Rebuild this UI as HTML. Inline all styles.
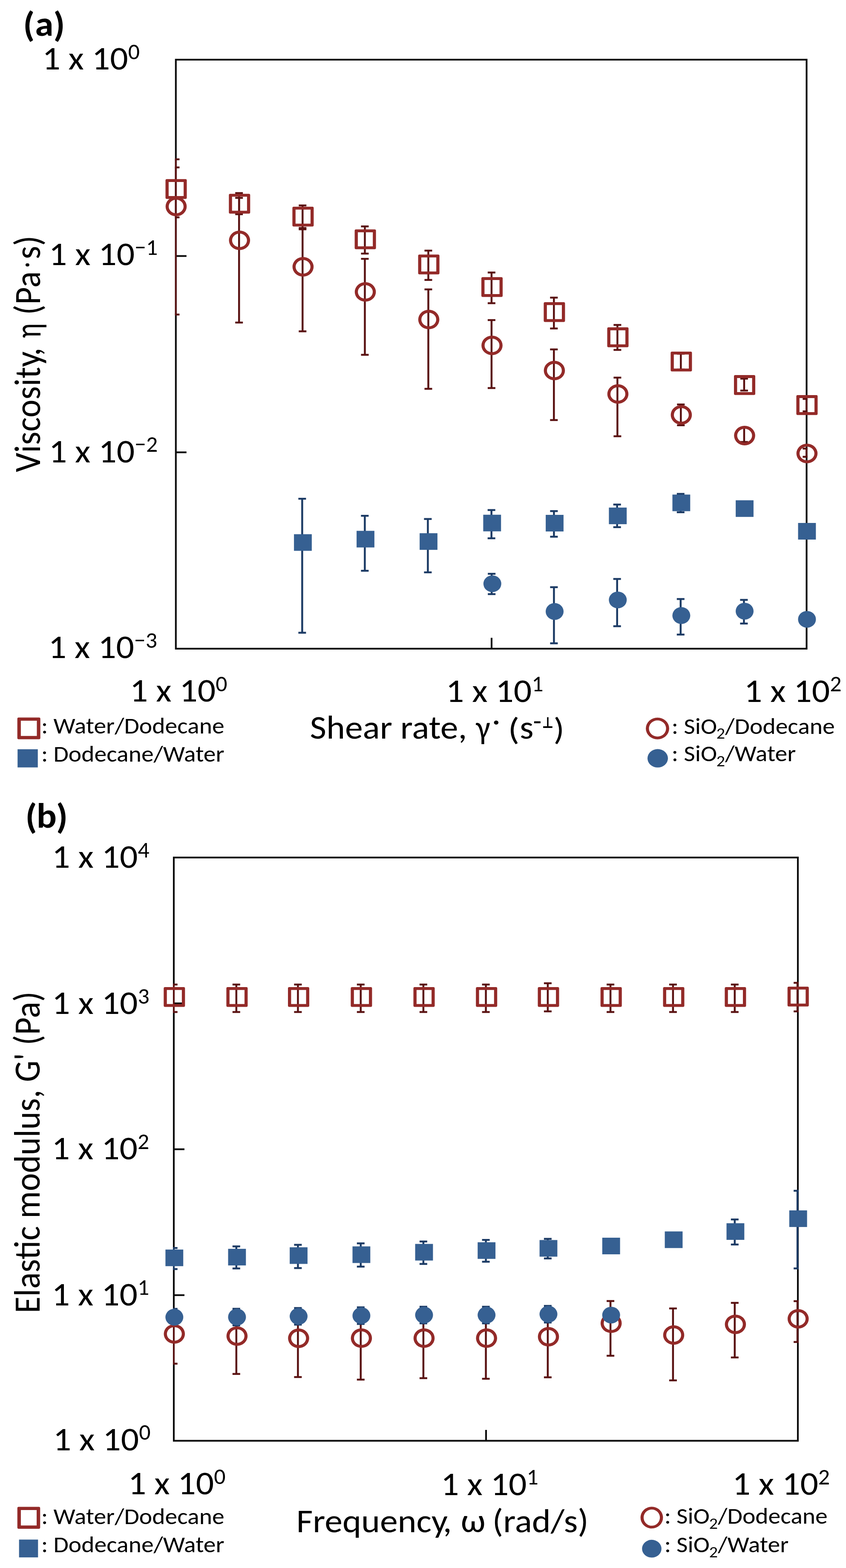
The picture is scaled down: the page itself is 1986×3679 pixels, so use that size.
<!DOCTYPE html>
<html><head><meta charset="utf-8"><title>Rheology figure</title><style>html,body{margin:0;padding:0;background:#fff;}svg{display:block;}</style></head><body>
<svg width="1986" height="3679" viewBox="0 0 1986 3679" font-family='"Carlito", "Liberation Sans", sans-serif' fill="#000">
<rect width="1986" height="3679" fill="#fff"/>
<defs><clipPath id="ca"><rect x="410.75" y="137.95" width="1484.8" height="1386.1"/></clipPath><clipPath id="cb"><rect x="405.95" y="2009.95" width="1469.1" height="1372.6"/></clipPath></defs>
<rect x="412.8" y="140" width="1480.7" height="1382" fill="none" stroke="#0c0c0c" stroke-width="4.1"/>
<line x1="412.8" y1="600.7" x2="437.8" y2="600.7" stroke="#0c0c0c" stroke-width="4.1"/>
<line x1="412.8" y1="1061.3" x2="437.8" y2="1061.3" stroke="#0c0c0c" stroke-width="4.1"/>
<line x1="1154" y1="1522" x2="1154" y2="1496.5" stroke="#0c0c0c" stroke-width="4.1"/>
<g clip-path="url(#ca)">
<line x1="412.40" y1="373.80" x2="412.40" y2="510.00" stroke="#5a1212" stroke-width="4.5"/>
<rect x="403.40" y="371.60" width="18.00" height="4.40" fill="#5a1212"/>
<rect x="403.40" y="507.80" width="18.00" height="4.40" fill="#5a1212"/>
<line x1="561.20" y1="453.00" x2="561.20" y2="502.60" stroke="#5a1212" stroke-width="4.5"/>
<rect x="552.20" y="450.80" width="18.00" height="4.40" fill="#5a1212"/>
<rect x="552.20" y="500.40" width="18.00" height="4.40" fill="#5a1212"/>
<line x1="710.30" y1="482.00" x2="710.30" y2="535.00" stroke="#5a1212" stroke-width="4.5"/>
<rect x="701.30" y="479.80" width="18.00" height="4.40" fill="#5a1212"/>
<rect x="701.30" y="532.80" width="18.00" height="4.40" fill="#5a1212"/>
<line x1="856.50" y1="531.20" x2="856.50" y2="595.00" stroke="#5a1212" stroke-width="4.5"/>
<rect x="847.50" y="529.00" width="18.00" height="4.40" fill="#5a1212"/>
<rect x="847.50" y="592.80" width="18.00" height="4.40" fill="#5a1212"/>
<line x1="1005.50" y1="588.00" x2="1005.50" y2="656.80" stroke="#5a1212" stroke-width="4.5"/>
<rect x="996.50" y="585.80" width="18.00" height="4.40" fill="#5a1212"/>
<rect x="996.50" y="654.60" width="18.00" height="4.40" fill="#5a1212"/>
<line x1="1153.90" y1="639.40" x2="1153.90" y2="711.40" stroke="#5a1212" stroke-width="4.5"/>
<rect x="1144.90" y="637.20" width="18.00" height="4.40" fill="#5a1212"/>
<rect x="1144.90" y="709.20" width="18.00" height="4.40" fill="#5a1212"/>
<line x1="1300.30" y1="698.30" x2="1300.30" y2="770.70" stroke="#5a1212" stroke-width="4.5"/>
<rect x="1291.30" y="696.10" width="18.00" height="4.40" fill="#5a1212"/>
<rect x="1291.30" y="768.50" width="18.00" height="4.40" fill="#5a1212"/>
<line x1="1449.40" y1="762.40" x2="1449.40" y2="821.00" stroke="#5a1212" stroke-width="4.5"/>
<rect x="1440.40" y="760.20" width="18.00" height="4.40" fill="#5a1212"/>
<rect x="1440.40" y="818.80" width="18.00" height="4.40" fill="#5a1212"/>
<line x1="1598.30" y1="830.00" x2="1598.30" y2="867.00" stroke="#5a1212" stroke-width="4.5"/>
<rect x="1589.30" y="827.80" width="18.00" height="4.40" fill="#5a1212"/>
<rect x="1589.30" y="864.80" width="18.00" height="4.40" fill="#5a1212"/>
<line x1="1746.90" y1="888.40" x2="1746.90" y2="916.40" stroke="#5a1212" stroke-width="4.5"/>
<rect x="1737.90" y="886.20" width="18.00" height="4.40" fill="#5a1212"/>
<rect x="1737.90" y="914.20" width="18.00" height="4.40" fill="#5a1212"/>
<line x1="1893.30" y1="936.00" x2="1893.30" y2="965.20" stroke="#5a1212" stroke-width="4.5"/>
<rect x="1884.30" y="933.80" width="18.00" height="4.40" fill="#5a1212"/>
<rect x="1884.30" y="963.00" width="18.00" height="4.40" fill="#5a1212"/>
<line x1="412.40" y1="392.80" x2="412.40" y2="738.00" stroke="#5a1212" stroke-width="4.5"/>
<rect x="403.40" y="390.60" width="18.00" height="4.40" fill="#5a1212"/>
<rect x="403.40" y="735.80" width="18.00" height="4.40" fill="#5a1212"/>
<line x1="561.20" y1="464.30" x2="561.20" y2="756.80" stroke="#5a1212" stroke-width="4.5"/>
<rect x="552.20" y="462.10" width="18.00" height="4.40" fill="#5a1212"/>
<rect x="552.20" y="754.60" width="18.00" height="4.40" fill="#5a1212"/>
<line x1="710.30" y1="538.00" x2="710.30" y2="777.40" stroke="#5a1212" stroke-width="4.5"/>
<rect x="701.30" y="535.80" width="18.00" height="4.40" fill="#5a1212"/>
<rect x="701.30" y="775.20" width="18.00" height="4.40" fill="#5a1212"/>
<line x1="856.50" y1="607.30" x2="856.50" y2="832.50" stroke="#5a1212" stroke-width="4.5"/>
<rect x="847.50" y="605.10" width="18.00" height="4.40" fill="#5a1212"/>
<rect x="847.50" y="830.30" width="18.00" height="4.40" fill="#5a1212"/>
<line x1="1005.50" y1="679.00" x2="1005.50" y2="912.30" stroke="#5a1212" stroke-width="4.5"/>
<rect x="996.50" y="676.80" width="18.00" height="4.40" fill="#5a1212"/>
<rect x="996.50" y="910.10" width="18.00" height="4.40" fill="#5a1212"/>
<line x1="1153.90" y1="751.00" x2="1153.90" y2="910.50" stroke="#5a1212" stroke-width="4.5"/>
<rect x="1144.90" y="748.80" width="18.00" height="4.40" fill="#5a1212"/>
<rect x="1144.90" y="908.30" width="18.00" height="4.40" fill="#5a1212"/>
<line x1="1300.30" y1="819.80" x2="1300.30" y2="985.60" stroke="#5a1212" stroke-width="4.5"/>
<rect x="1291.30" y="817.60" width="18.00" height="4.40" fill="#5a1212"/>
<rect x="1291.30" y="983.40" width="18.00" height="4.40" fill="#5a1212"/>
<line x1="1449.40" y1="886.00" x2="1449.40" y2="1023.60" stroke="#5a1212" stroke-width="4.5"/>
<rect x="1440.40" y="883.80" width="18.00" height="4.40" fill="#5a1212"/>
<rect x="1440.40" y="1021.40" width="18.00" height="4.40" fill="#5a1212"/>
<line x1="1598.30" y1="949.00" x2="1598.30" y2="997.80" stroke="#5a1212" stroke-width="4.5"/>
<rect x="1589.30" y="946.80" width="18.00" height="4.40" fill="#5a1212"/>
<rect x="1589.30" y="995.60" width="18.00" height="4.40" fill="#5a1212"/>
<line x1="1746.90" y1="1003.50" x2="1746.90" y2="1037.00" stroke="#5a1212" stroke-width="4.5"/>
<rect x="1737.90" y="1001.30" width="18.00" height="4.40" fill="#5a1212"/>
<rect x="1737.90" y="1034.80" width="18.00" height="4.40" fill="#5a1212"/>
<line x1="1893.30" y1="1052.50" x2="1893.30" y2="1071.80" stroke="#5a1212" stroke-width="4.5"/>
<rect x="1884.30" y="1050.30" width="18.00" height="4.40" fill="#5a1212"/>
<rect x="1884.30" y="1069.60" width="18.00" height="4.40" fill="#5a1212"/>
<line x1="709.40" y1="1170.20" x2="709.40" y2="1484.60" stroke="#1c3b65" stroke-width="4.5"/>
<rect x="700.40" y="1168.00" width="18.00" height="4.40" fill="#1c3b65"/>
<rect x="700.40" y="1482.40" width="18.00" height="4.40" fill="#1c3b65"/>
<line x1="856.40" y1="1210.20" x2="856.40" y2="1339.20" stroke="#1c3b65" stroke-width="4.5"/>
<rect x="847.40" y="1208.00" width="18.00" height="4.40" fill="#1c3b65"/>
<rect x="847.40" y="1337.00" width="18.00" height="4.40" fill="#1c3b65"/>
<line x1="1004.40" y1="1217.70" x2="1004.40" y2="1342.90" stroke="#1c3b65" stroke-width="4.5"/>
<rect x="995.40" y="1215.50" width="18.00" height="4.40" fill="#1c3b65"/>
<rect x="995.40" y="1340.70" width="18.00" height="4.40" fill="#1c3b65"/>
<line x1="1153.70" y1="1196.70" x2="1153.70" y2="1263.00" stroke="#1c3b65" stroke-width="4.5"/>
<rect x="1144.70" y="1194.50" width="18.00" height="4.40" fill="#1c3b65"/>
<rect x="1144.70" y="1260.80" width="18.00" height="4.40" fill="#1c3b65"/>
<line x1="1300.40" y1="1199.20" x2="1300.40" y2="1259.30" stroke="#1c3b65" stroke-width="4.5"/>
<rect x="1291.40" y="1197.00" width="18.00" height="4.40" fill="#1c3b65"/>
<rect x="1291.40" y="1257.10" width="18.00" height="4.40" fill="#1c3b65"/>
<line x1="1448.70" y1="1183.80" x2="1448.70" y2="1236.90" stroke="#1c3b65" stroke-width="4.5"/>
<rect x="1439.70" y="1181.60" width="18.00" height="4.40" fill="#1c3b65"/>
<rect x="1439.70" y="1234.70" width="18.00" height="4.40" fill="#1c3b65"/>
<line x1="1597.80" y1="1158.80" x2="1597.80" y2="1201.90" stroke="#1c3b65" stroke-width="4.5"/>
<rect x="1588.80" y="1156.60" width="18.00" height="4.40" fill="#1c3b65"/>
<rect x="1588.80" y="1199.70" width="18.00" height="4.40" fill="#1c3b65"/>
<line x1="1154.20" y1="1346.30" x2="1154.20" y2="1394.00" stroke="#1c3b65" stroke-width="4.5"/>
<rect x="1145.20" y="1344.10" width="18.00" height="4.40" fill="#1c3b65"/>
<rect x="1145.20" y="1391.80" width="18.00" height="4.40" fill="#1c3b65"/>
<line x1="1300.40" y1="1377.70" x2="1300.40" y2="1509.40" stroke="#1c3b65" stroke-width="4.5"/>
<rect x="1291.40" y="1375.50" width="18.00" height="4.40" fill="#1c3b65"/>
<rect x="1291.40" y="1507.20" width="18.00" height="4.40" fill="#1c3b65"/>
<line x1="1448.70" y1="1358.40" x2="1448.70" y2="1469.30" stroke="#1c3b65" stroke-width="4.5"/>
<rect x="1439.70" y="1356.20" width="18.00" height="4.40" fill="#1c3b65"/>
<rect x="1439.70" y="1467.10" width="18.00" height="4.40" fill="#1c3b65"/>
<line x1="1597.80" y1="1405.50" x2="1597.80" y2="1488.90" stroke="#1c3b65" stroke-width="4.5"/>
<rect x="1588.80" y="1403.30" width="18.00" height="4.40" fill="#1c3b65"/>
<rect x="1588.80" y="1486.70" width="18.00" height="4.40" fill="#1c3b65"/>
<line x1="1746.40" y1="1407.50" x2="1746.40" y2="1463.00" stroke="#1c3b65" stroke-width="4.5"/>
<rect x="1737.40" y="1405.30" width="18.00" height="4.40" fill="#1c3b65"/>
<rect x="1737.40" y="1460.80" width="18.00" height="4.40" fill="#1c3b65"/>
</g>
<path fill="#932a28" fill-rule="evenodd" d="M391.50,420.20h44.00a3.0,3.0 0 0 1 3.0,3.0v40.60a3.0,3.0 0 0 1 -3.0,3.0h-44.00a3.0,3.0 0 0 1 -3.0,-3.0v-40.60a3.0,3.0 0 0 1 3.0,-3.0z M395.91,427.00h35.18v33.00h-35.18z"/>
<path fill="#932a28" fill-rule="evenodd" d="M540.30,454.70h44.00a3.0,3.0 0 0 1 3.0,3.0v40.60a3.0,3.0 0 0 1 -3.0,3.0h-44.00a3.0,3.0 0 0 1 -3.0,-3.0v-40.60a3.0,3.0 0 0 1 3.0,-3.0z M544.71,461.50h35.18v33.00h-35.18z"/>
<path fill="#932a28" fill-rule="evenodd" d="M689.40,484.90h44.00a3.0,3.0 0 0 1 3.0,3.0v40.60a3.0,3.0 0 0 1 -3.0,3.0h-44.00a3.0,3.0 0 0 1 -3.0,-3.0v-40.60a3.0,3.0 0 0 1 3.0,-3.0z M693.81,491.70h35.18v33.00h-35.18z"/>
<path fill="#932a28" fill-rule="evenodd" d="M835.60,538.20h44.00a3.0,3.0 0 0 1 3.0,3.0v40.60a3.0,3.0 0 0 1 -3.0,3.0h-44.00a3.0,3.0 0 0 1 -3.0,-3.0v-40.60a3.0,3.0 0 0 1 3.0,-3.0z M840.01,545.00h35.18v33.00h-35.18z"/>
<path fill="#932a28" fill-rule="evenodd" d="M984.60,597.20h44.00a3.0,3.0 0 0 1 3.0,3.0v40.60a3.0,3.0 0 0 1 -3.0,3.0h-44.00a3.0,3.0 0 0 1 -3.0,-3.0v-40.60a3.0,3.0 0 0 1 3.0,-3.0z M989.01,604.00h35.18v33.00h-35.18z"/>
<path fill="#932a28" fill-rule="evenodd" d="M1133.00,650.20h44.00a3.0,3.0 0 0 1 3.0,3.0v40.60a3.0,3.0 0 0 1 -3.0,3.0h-44.00a3.0,3.0 0 0 1 -3.0,-3.0v-40.60a3.0,3.0 0 0 1 3.0,-3.0z M1137.41,657.00h35.18v33.00h-35.18z"/>
<path fill="#932a28" fill-rule="evenodd" d="M1279.40,709.00h44.00a3.0,3.0 0 0 1 3.0,3.0v40.60a3.0,3.0 0 0 1 -3.0,3.0h-44.00a3.0,3.0 0 0 1 -3.0,-3.0v-40.60a3.0,3.0 0 0 1 3.0,-3.0z M1283.81,715.80h35.18v33.00h-35.18z"/>
<path fill="#932a28" fill-rule="evenodd" d="M1428.50,768.10h44.00a3.0,3.0 0 0 1 3.0,3.0v40.60a3.0,3.0 0 0 1 -3.0,3.0h-44.00a3.0,3.0 0 0 1 -3.0,-3.0v-40.60a3.0,3.0 0 0 1 3.0,-3.0z M1432.91,774.90h35.18v33.00h-35.18z"/>
<path fill="#932a28" fill-rule="evenodd" d="M1577.40,824.90h44.00a3.0,3.0 0 0 1 3.0,3.0v40.60a3.0,3.0 0 0 1 -3.0,3.0h-44.00a3.0,3.0 0 0 1 -3.0,-3.0v-40.60a3.0,3.0 0 0 1 3.0,-3.0z M1581.81,831.70h35.18v33.00h-35.18z"/>
<path fill="#932a28" fill-rule="evenodd" d="M1726.00,880.10h44.00a3.0,3.0 0 0 1 3.0,3.0v40.60a3.0,3.0 0 0 1 -3.0,3.0h-44.00a3.0,3.0 0 0 1 -3.0,-3.0v-40.60a3.0,3.0 0 0 1 3.0,-3.0z M1730.41,886.90h35.18v33.00h-35.18z"/>
<path fill="#932a28" fill-rule="evenodd" d="M1872.40,927.10h44.00a3.0,3.0 0 0 1 3.0,3.0v40.60a3.0,3.0 0 0 1 -3.0,3.0h-44.00a3.0,3.0 0 0 1 -3.0,-3.0v-40.60a3.0,3.0 0 0 1 3.0,-3.0z M1876.81,933.90h35.18v33.00h-35.18z"/>
<rect x="690.10" y="1253.40" width="41.80" height="39.00" fill="#366092"/>
<rect x="837.10" y="1245.50" width="41.80" height="39.00" fill="#366092"/>
<rect x="985.10" y="1251.10" width="41.80" height="39.00" fill="#366092"/>
<rect x="1134.40" y="1207.70" width="41.80" height="39.00" fill="#366092"/>
<rect x="1281.10" y="1208.00" width="41.80" height="39.00" fill="#366092"/>
<rect x="1429.40" y="1190.90" width="41.80" height="39.00" fill="#366092"/>
<rect x="1578.50" y="1160.40" width="41.80" height="39.00" fill="#366092"/>
<rect x="1727.10" y="1173.80" width="41.80" height="39.00" fill="#366092"/>
<rect x="1873.50" y="1227.00" width="41.80" height="39.00" fill="#366092"/>
<path fill="#932a28" fill-rule="evenodd" d="M388.70,484.50a24.80,22.90 0 1 0 49.60,0a24.80,22.90 0 1 0 -49.60,0z M396.05,484.50a17.45,15.90 0 1 0 34.90,0a17.45,15.90 0 1 0 -34.90,0z"/>
<path fill="#932a28" fill-rule="evenodd" d="M537.50,563.90a24.80,22.90 0 1 0 49.60,0a24.80,22.90 0 1 0 -49.60,0z M544.85,563.90a17.45,15.90 0 1 0 34.90,0a17.45,15.90 0 1 0 -34.90,0z"/>
<path fill="#932a28" fill-rule="evenodd" d="M686.60,626.00a24.80,22.90 0 1 0 49.60,0a24.80,22.90 0 1 0 -49.60,0z M693.95,626.00a17.45,15.90 0 1 0 34.90,0a17.45,15.90 0 1 0 -34.90,0z"/>
<path fill="#932a28" fill-rule="evenodd" d="M832.80,684.90a24.80,22.90 0 1 0 49.60,0a24.80,22.90 0 1 0 -49.60,0z M840.15,684.90a17.45,15.90 0 1 0 34.90,0a17.45,15.90 0 1 0 -34.90,0z"/>
<path fill="#932a28" fill-rule="evenodd" d="M981.80,749.70a24.80,22.90 0 1 0 49.60,0a24.80,22.90 0 1 0 -49.60,0z M989.15,749.70a17.45,15.90 0 1 0 34.90,0a17.45,15.90 0 1 0 -34.90,0z"/>
<path fill="#932a28" fill-rule="evenodd" d="M1130.20,810.40a24.80,22.90 0 1 0 49.60,0a24.80,22.90 0 1 0 -49.60,0z M1137.55,810.40a17.45,15.90 0 1 0 34.90,0a17.45,15.90 0 1 0 -34.90,0z"/>
<path fill="#932a28" fill-rule="evenodd" d="M1276.60,869.40a24.80,22.90 0 1 0 49.60,0a24.80,22.90 0 1 0 -49.60,0z M1283.95,869.40a17.45,15.90 0 1 0 34.90,0a17.45,15.90 0 1 0 -34.90,0z"/>
<path fill="#932a28" fill-rule="evenodd" d="M1425.70,924.40a24.80,22.90 0 1 0 49.60,0a24.80,22.90 0 1 0 -49.60,0z M1433.05,924.40a17.45,15.90 0 1 0 34.90,0a17.45,15.90 0 1 0 -34.90,0z"/>
<path fill="#932a28" fill-rule="evenodd" d="M1574.60,973.50a24.80,22.90 0 1 0 49.60,0a24.80,22.90 0 1 0 -49.60,0z M1581.95,973.50a17.45,15.90 0 1 0 34.90,0a17.45,15.90 0 1 0 -34.90,0z"/>
<path fill="#932a28" fill-rule="evenodd" d="M1723.20,1022.00a24.80,22.90 0 1 0 49.60,0a24.80,22.90 0 1 0 -49.60,0z M1730.55,1022.00a17.45,15.90 0 1 0 34.90,0a17.45,15.90 0 1 0 -34.90,0z"/>
<path fill="#932a28" fill-rule="evenodd" d="M1869.60,1064.00a24.80,22.90 0 1 0 49.60,0a24.80,22.90 0 1 0 -49.60,0z M1876.95,1064.00a17.45,15.90 0 1 0 34.90,0a17.45,15.90 0 1 0 -34.90,0z"/>
<ellipse cx="1155.80" cy="1369.60" rx="21.00" ry="19.70" fill="#366092"/>
<ellipse cx="1302.00" cy="1434.70" rx="21.00" ry="19.70" fill="#366092"/>
<ellipse cx="1450.30" cy="1407.60" rx="21.00" ry="19.70" fill="#366092"/>
<ellipse cx="1599.40" cy="1444.20" rx="21.00" ry="19.70" fill="#366092"/>
<ellipse cx="1748.00" cy="1434.00" rx="21.00" ry="19.70" fill="#366092"/>
<ellipse cx="1894.40" cy="1453.10" rx="21.00" ry="19.70" fill="#366092"/>
<rect x="408" y="2012" width="1465" height="1368.5" fill="none" stroke="#0c0c0c" stroke-width="4.1"/>
<line x1="408" y1="2354.2" x2="433" y2="2354.2" stroke="#0c0c0c" stroke-width="4.1"/>
<line x1="408" y1="2696.5" x2="433" y2="2696.5" stroke="#0c0c0c" stroke-width="4.1"/>
<line x1="408" y1="3038.8" x2="433" y2="3038.8" stroke="#0c0c0c" stroke-width="4.1"/>
<line x1="1141" y1="3380.5" x2="1141" y2="3355.0" stroke="#0c0c0c" stroke-width="4.1"/>
<g clip-path="url(#cb)">
<line x1="407.70" y1="2310.00" x2="407.70" y2="2374.50" stroke="#5a1212" stroke-width="4.5"/>
<rect x="398.70" y="2307.80" width="18.00" height="4.40" fill="#5a1212"/>
<rect x="398.70" y="2372.30" width="18.00" height="4.40" fill="#5a1212"/>
<line x1="554.80" y1="2310.00" x2="554.80" y2="2374.50" stroke="#5a1212" stroke-width="4.5"/>
<rect x="545.80" y="2307.80" width="18.00" height="4.40" fill="#5a1212"/>
<rect x="545.80" y="2372.30" width="18.00" height="4.40" fill="#5a1212"/>
<line x1="699.40" y1="2310.00" x2="699.40" y2="2374.50" stroke="#5a1212" stroke-width="4.5"/>
<rect x="690.40" y="2307.80" width="18.00" height="4.40" fill="#5a1212"/>
<rect x="690.40" y="2372.30" width="18.00" height="4.40" fill="#5a1212"/>
<line x1="846.80" y1="2310.00" x2="846.80" y2="2374.50" stroke="#5a1212" stroke-width="4.5"/>
<rect x="837.80" y="2307.80" width="18.00" height="4.40" fill="#5a1212"/>
<rect x="837.80" y="2372.30" width="18.00" height="4.40" fill="#5a1212"/>
<line x1="993.90" y1="2310.00" x2="993.90" y2="2374.50" stroke="#5a1212" stroke-width="4.5"/>
<rect x="984.90" y="2307.80" width="18.00" height="4.40" fill="#5a1212"/>
<rect x="984.90" y="2372.30" width="18.00" height="4.40" fill="#5a1212"/>
<line x1="1140.60" y1="2310.00" x2="1140.60" y2="2374.50" stroke="#5a1212" stroke-width="4.5"/>
<rect x="1131.60" y="2307.80" width="18.00" height="4.40" fill="#5a1212"/>
<rect x="1131.60" y="2372.30" width="18.00" height="4.40" fill="#5a1212"/>
<line x1="1285.90" y1="2307.00" x2="1285.90" y2="2373.00" stroke="#5a1212" stroke-width="4.5"/>
<rect x="1276.90" y="2304.80" width="18.00" height="4.40" fill="#5a1212"/>
<rect x="1276.90" y="2370.80" width="18.00" height="4.40" fill="#5a1212"/>
<line x1="1433.10" y1="2310.00" x2="1433.10" y2="2374.50" stroke="#5a1212" stroke-width="4.5"/>
<rect x="1424.10" y="2307.80" width="18.00" height="4.40" fill="#5a1212"/>
<rect x="1424.10" y="2372.30" width="18.00" height="4.40" fill="#5a1212"/>
<line x1="1579.90" y1="2310.00" x2="1579.90" y2="2374.50" stroke="#5a1212" stroke-width="4.5"/>
<rect x="1570.90" y="2307.80" width="18.00" height="4.40" fill="#5a1212"/>
<rect x="1570.90" y="2372.30" width="18.00" height="4.40" fill="#5a1212"/>
<line x1="1724.80" y1="2310.00" x2="1724.80" y2="2374.50" stroke="#5a1212" stroke-width="4.5"/>
<rect x="1715.80" y="2307.80" width="18.00" height="4.40" fill="#5a1212"/>
<rect x="1715.80" y="2372.30" width="18.00" height="4.40" fill="#5a1212"/>
<line x1="1872.10" y1="2306.00" x2="1872.10" y2="2373.00" stroke="#5a1212" stroke-width="4.5"/>
<rect x="1863.10" y="2303.80" width="18.00" height="4.40" fill="#5a1212"/>
<rect x="1863.10" y="2370.80" width="18.00" height="4.40" fill="#5a1212"/>
<line x1="407.70" y1="2928.20" x2="407.70" y2="2977.60" stroke="#1c3b65" stroke-width="4.5"/>
<rect x="398.70" y="2926.00" width="18.00" height="4.40" fill="#1c3b65"/>
<rect x="398.70" y="2975.40" width="18.00" height="4.40" fill="#1c3b65"/>
<line x1="554.80" y1="2924.40" x2="554.80" y2="2976.20" stroke="#1c3b65" stroke-width="4.5"/>
<rect x="545.80" y="2922.20" width="18.00" height="4.40" fill="#1c3b65"/>
<rect x="545.80" y="2974.00" width="18.00" height="4.40" fill="#1c3b65"/>
<line x1="699.40" y1="2920.70" x2="699.40" y2="2975.30" stroke="#1c3b65" stroke-width="4.5"/>
<rect x="690.40" y="2918.50" width="18.00" height="4.40" fill="#1c3b65"/>
<rect x="690.40" y="2973.10" width="18.00" height="4.40" fill="#1c3b65"/>
<line x1="846.80" y1="2917.30" x2="846.80" y2="2971.90" stroke="#1c3b65" stroke-width="4.5"/>
<rect x="837.80" y="2915.10" width="18.00" height="4.40" fill="#1c3b65"/>
<rect x="837.80" y="2969.70" width="18.00" height="4.40" fill="#1c3b65"/>
<line x1="993.90" y1="2912.90" x2="993.90" y2="2965.60" stroke="#1c3b65" stroke-width="4.5"/>
<rect x="984.90" y="2910.70" width="18.00" height="4.40" fill="#1c3b65"/>
<rect x="984.90" y="2963.40" width="18.00" height="4.40" fill="#1c3b65"/>
<line x1="1140.60" y1="2909.20" x2="1140.60" y2="2960.40" stroke="#1c3b65" stroke-width="4.5"/>
<rect x="1131.60" y="2907.00" width="18.00" height="4.40" fill="#1c3b65"/>
<rect x="1131.60" y="2958.20" width="18.00" height="4.40" fill="#1c3b65"/>
<line x1="1285.90" y1="2906.70" x2="1285.90" y2="2952.70" stroke="#1c3b65" stroke-width="4.5"/>
<rect x="1276.90" y="2904.50" width="18.00" height="4.40" fill="#1c3b65"/>
<rect x="1276.90" y="2950.50" width="18.00" height="4.40" fill="#1c3b65"/>
<line x1="1724.80" y1="2861.20" x2="1724.80" y2="2920.00" stroke="#1c3b65" stroke-width="4.5"/>
<rect x="1715.80" y="2859.00" width="18.00" height="4.40" fill="#1c3b65"/>
<rect x="1715.80" y="2917.80" width="18.00" height="4.40" fill="#1c3b65"/>
<line x1="1872.10" y1="2793.90" x2="1872.10" y2="2976.10" stroke="#1c3b65" stroke-width="4.5"/>
<rect x="1863.10" y="2791.70" width="18.00" height="4.40" fill="#1c3b65"/>
<rect x="1863.10" y="2973.90" width="18.00" height="4.40" fill="#1c3b65"/>
<line x1="407.70" y1="3090.00" x2="407.70" y2="3199.60" stroke="#5a1212" stroke-width="4.5"/>
<rect x="398.70" y="3087.80" width="18.00" height="4.40" fill="#5a1212"/>
<rect x="398.70" y="3197.40" width="18.00" height="4.40" fill="#5a1212"/>
<line x1="554.80" y1="3090.00" x2="554.80" y2="3223.70" stroke="#5a1212" stroke-width="4.5"/>
<rect x="545.80" y="3087.80" width="18.00" height="4.40" fill="#5a1212"/>
<rect x="545.80" y="3221.50" width="18.00" height="4.40" fill="#5a1212"/>
<line x1="699.40" y1="3088.00" x2="699.40" y2="3231.00" stroke="#5a1212" stroke-width="4.5"/>
<rect x="690.40" y="3085.80" width="18.00" height="4.40" fill="#5a1212"/>
<rect x="690.40" y="3228.80" width="18.00" height="4.40" fill="#5a1212"/>
<line x1="846.80" y1="3087.00" x2="846.80" y2="3237.00" stroke="#5a1212" stroke-width="4.5"/>
<rect x="837.80" y="3084.80" width="18.00" height="4.40" fill="#5a1212"/>
<rect x="837.80" y="3234.80" width="18.00" height="4.40" fill="#5a1212"/>
<line x1="993.90" y1="3085.00" x2="993.90" y2="3233.60" stroke="#5a1212" stroke-width="4.5"/>
<rect x="984.90" y="3082.80" width="18.00" height="4.40" fill="#5a1212"/>
<rect x="984.90" y="3231.40" width="18.00" height="4.40" fill="#5a1212"/>
<line x1="1140.60" y1="3085.00" x2="1140.60" y2="3235.00" stroke="#5a1212" stroke-width="4.5"/>
<rect x="1131.60" y="3082.80" width="18.00" height="4.40" fill="#5a1212"/>
<rect x="1131.60" y="3232.80" width="18.00" height="4.40" fill="#5a1212"/>
<line x1="1285.90" y1="3083.00" x2="1285.90" y2="3231.60" stroke="#5a1212" stroke-width="4.5"/>
<rect x="1276.90" y="3080.80" width="18.00" height="4.40" fill="#5a1212"/>
<rect x="1276.90" y="3229.40" width="18.00" height="4.40" fill="#5a1212"/>
<line x1="1433.10" y1="3052.60" x2="1433.10" y2="3181.00" stroke="#5a1212" stroke-width="4.5"/>
<rect x="1424.10" y="3050.40" width="18.00" height="4.40" fill="#5a1212"/>
<rect x="1424.10" y="3178.80" width="18.00" height="4.40" fill="#5a1212"/>
<line x1="1579.90" y1="3070.00" x2="1579.90" y2="3238.80" stroke="#5a1212" stroke-width="4.5"/>
<rect x="1570.90" y="3067.80" width="18.00" height="4.40" fill="#5a1212"/>
<rect x="1570.90" y="3236.60" width="18.00" height="4.40" fill="#5a1212"/>
<line x1="1724.80" y1="3056.90" x2="1724.80" y2="3185.00" stroke="#5a1212" stroke-width="4.5"/>
<rect x="1715.80" y="3054.70" width="18.00" height="4.40" fill="#5a1212"/>
<rect x="1715.80" y="3182.80" width="18.00" height="4.40" fill="#5a1212"/>
<line x1="1872.10" y1="3052.90" x2="1872.10" y2="3148.70" stroke="#5a1212" stroke-width="4.5"/>
<rect x="1863.10" y="3050.70" width="18.00" height="4.40" fill="#5a1212"/>
<rect x="1863.10" y="3146.50" width="18.00" height="4.40" fill="#5a1212"/>
<line x1="407.70" y1="3071.00" x2="407.70" y2="3110.00" stroke="#1c3b65" stroke-width="4.5"/>
<rect x="398.70" y="3068.80" width="18.00" height="4.40" fill="#1c3b65"/>
<rect x="398.70" y="3107.80" width="18.00" height="4.40" fill="#1c3b65"/>
<line x1="554.80" y1="3070.80" x2="554.80" y2="3109.80" stroke="#1c3b65" stroke-width="4.5"/>
<rect x="545.80" y="3068.60" width="18.00" height="4.40" fill="#1c3b65"/>
<rect x="545.80" y="3107.60" width="18.00" height="4.40" fill="#1c3b65"/>
<line x1="699.40" y1="3069.00" x2="699.40" y2="3108.00" stroke="#1c3b65" stroke-width="4.5"/>
<rect x="690.40" y="3066.80" width="18.00" height="4.40" fill="#1c3b65"/>
<rect x="690.40" y="3105.80" width="18.00" height="4.40" fill="#1c3b65"/>
<line x1="846.80" y1="3067.40" x2="846.80" y2="3106.40" stroke="#1c3b65" stroke-width="4.5"/>
<rect x="837.80" y="3065.20" width="18.00" height="4.40" fill="#1c3b65"/>
<rect x="837.80" y="3104.20" width="18.00" height="4.40" fill="#1c3b65"/>
<line x1="993.90" y1="3066.00" x2="993.90" y2="3105.00" stroke="#1c3b65" stroke-width="4.5"/>
<rect x="984.90" y="3063.80" width="18.00" height="4.40" fill="#1c3b65"/>
<rect x="984.90" y="3102.80" width="18.00" height="4.40" fill="#1c3b65"/>
<line x1="1140.60" y1="3066.00" x2="1140.60" y2="3105.00" stroke="#1c3b65" stroke-width="4.5"/>
<rect x="1131.60" y="3063.80" width="18.00" height="4.40" fill="#1c3b65"/>
<rect x="1131.60" y="3102.80" width="18.00" height="4.40" fill="#1c3b65"/>
<line x1="1285.90" y1="3064.00" x2="1285.90" y2="3103.00" stroke="#1c3b65" stroke-width="4.5"/>
<rect x="1276.90" y="3061.80" width="18.00" height="4.40" fill="#1c3b65"/>
<rect x="1276.90" y="3100.80" width="18.00" height="4.40" fill="#1c3b65"/>
<line x1="1433.10" y1="3075.60" x2="1433.10" y2="3095.60" stroke="#1c3b65" stroke-width="4.5"/>
<rect x="1424.10" y="3073.40" width="18.00" height="4.40" fill="#1c3b65"/>
<rect x="1424.10" y="3093.40" width="18.00" height="4.40" fill="#1c3b65"/>
</g>
<path fill="#932a28" fill-rule="evenodd" d="M387.30,2315.90h44.00a3.0,3.0 0 0 1 3.0,3.0v40.60a3.0,3.0 0 0 1 -3.0,3.0h-44.00a3.0,3.0 0 0 1 -3.0,-3.0v-40.60a3.0,3.0 0 0 1 3.0,-3.0z M391.71,2322.70h35.18v33.00h-35.18z"/>
<path fill="#932a28" fill-rule="evenodd" d="M534.40,2315.90h44.00a3.0,3.0 0 0 1 3.0,3.0v40.60a3.0,3.0 0 0 1 -3.0,3.0h-44.00a3.0,3.0 0 0 1 -3.0,-3.0v-40.60a3.0,3.0 0 0 1 3.0,-3.0z M538.81,2322.70h35.18v33.00h-35.18z"/>
<path fill="#932a28" fill-rule="evenodd" d="M679.00,2315.90h44.00a3.0,3.0 0 0 1 3.0,3.0v40.60a3.0,3.0 0 0 1 -3.0,3.0h-44.00a3.0,3.0 0 0 1 -3.0,-3.0v-40.60a3.0,3.0 0 0 1 3.0,-3.0z M683.41,2322.70h35.18v33.00h-35.18z"/>
<path fill="#932a28" fill-rule="evenodd" d="M826.40,2315.90h44.00a3.0,3.0 0 0 1 3.0,3.0v40.60a3.0,3.0 0 0 1 -3.0,3.0h-44.00a3.0,3.0 0 0 1 -3.0,-3.0v-40.60a3.0,3.0 0 0 1 3.0,-3.0z M830.81,2322.70h35.18v33.00h-35.18z"/>
<path fill="#932a28" fill-rule="evenodd" d="M973.50,2315.90h44.00a3.0,3.0 0 0 1 3.0,3.0v40.60a3.0,3.0 0 0 1 -3.0,3.0h-44.00a3.0,3.0 0 0 1 -3.0,-3.0v-40.60a3.0,3.0 0 0 1 3.0,-3.0z M977.91,2322.70h35.18v33.00h-35.18z"/>
<path fill="#932a28" fill-rule="evenodd" d="M1120.20,2315.90h44.00a3.0,3.0 0 0 1 3.0,3.0v40.60a3.0,3.0 0 0 1 -3.0,3.0h-44.00a3.0,3.0 0 0 1 -3.0,-3.0v-40.60a3.0,3.0 0 0 1 3.0,-3.0z M1124.61,2322.70h35.18v33.00h-35.18z"/>
<path fill="#932a28" fill-rule="evenodd" d="M1265.50,2315.90h44.00a3.0,3.0 0 0 1 3.0,3.0v40.60a3.0,3.0 0 0 1 -3.0,3.0h-44.00a3.0,3.0 0 0 1 -3.0,-3.0v-40.60a3.0,3.0 0 0 1 3.0,-3.0z M1269.91,2322.70h35.18v33.00h-35.18z"/>
<path fill="#932a28" fill-rule="evenodd" d="M1412.70,2315.90h44.00a3.0,3.0 0 0 1 3.0,3.0v40.60a3.0,3.0 0 0 1 -3.0,3.0h-44.00a3.0,3.0 0 0 1 -3.0,-3.0v-40.60a3.0,3.0 0 0 1 3.0,-3.0z M1417.11,2322.70h35.18v33.00h-35.18z"/>
<path fill="#932a28" fill-rule="evenodd" d="M1559.50,2315.90h44.00a3.0,3.0 0 0 1 3.0,3.0v40.60a3.0,3.0 0 0 1 -3.0,3.0h-44.00a3.0,3.0 0 0 1 -3.0,-3.0v-40.60a3.0,3.0 0 0 1 3.0,-3.0z M1563.91,2322.70h35.18v33.00h-35.18z"/>
<path fill="#932a28" fill-rule="evenodd" d="M1704.40,2315.90h44.00a3.0,3.0 0 0 1 3.0,3.0v40.60a3.0,3.0 0 0 1 -3.0,3.0h-44.00a3.0,3.0 0 0 1 -3.0,-3.0v-40.60a3.0,3.0 0 0 1 3.0,-3.0z M1708.81,2322.70h35.18v33.00h-35.18z"/>
<path fill="#932a28" fill-rule="evenodd" d="M1851.70,2314.90h44.00a3.0,3.0 0 0 1 3.0,3.0v40.60a3.0,3.0 0 0 1 -3.0,3.0h-44.00a3.0,3.0 0 0 1 -3.0,-3.0v-40.60a3.0,3.0 0 0 1 3.0,-3.0z M1856.11,2321.70h35.18v33.00h-35.18z"/>
<rect x="388.40" y="2931.80" width="41.80" height="39.00" fill="#366092"/>
<rect x="535.50" y="2930.10" width="41.80" height="39.00" fill="#366092"/>
<rect x="680.10" y="2926.50" width="41.80" height="39.00" fill="#366092"/>
<rect x="827.50" y="2924.40" width="41.80" height="39.00" fill="#366092"/>
<rect x="974.60" y="2918.60" width="41.80" height="39.00" fill="#366092"/>
<rect x="1121.30" y="2914.70" width="41.80" height="39.00" fill="#366092"/>
<rect x="1266.60" y="2909.50" width="41.80" height="39.00" fill="#366092"/>
<rect x="1413.80" y="2904.00" width="41.80" height="39.00" fill="#366092"/>
<rect x="1560.60" y="2889.30" width="41.80" height="39.00" fill="#366092"/>
<rect x="1705.50" y="2870.10" width="41.80" height="39.00" fill="#366092"/>
<rect x="1852.80" y="2839.90" width="41.80" height="39.00" fill="#366092"/>
<path fill="#932a28" fill-rule="evenodd" d="M384.50,3129.80a24.80,22.90 0 1 0 49.60,0a24.80,22.90 0 1 0 -49.60,0z M391.85,3129.80a17.45,15.90 0 1 0 34.90,0a17.45,15.90 0 1 0 -34.90,0z"/>
<path fill="#932a28" fill-rule="evenodd" d="M531.60,3134.80a24.80,22.90 0 1 0 49.60,0a24.80,22.90 0 1 0 -49.60,0z M538.95,3134.80a17.45,15.90 0 1 0 34.90,0a17.45,15.90 0 1 0 -34.90,0z"/>
<path fill="#932a28" fill-rule="evenodd" d="M676.20,3140.00a24.80,22.90 0 1 0 49.60,0a24.80,22.90 0 1 0 -49.60,0z M683.55,3140.00a17.45,15.90 0 1 0 34.90,0a17.45,15.90 0 1 0 -34.90,0z"/>
<path fill="#932a28" fill-rule="evenodd" d="M823.60,3139.70a24.80,22.90 0 1 0 49.60,0a24.80,22.90 0 1 0 -49.60,0z M830.95,3139.70a17.45,15.90 0 1 0 34.90,0a17.45,15.90 0 1 0 -34.90,0z"/>
<path fill="#932a28" fill-rule="evenodd" d="M970.70,3139.70a24.80,22.90 0 1 0 49.60,0a24.80,22.90 0 1 0 -49.60,0z M978.05,3139.70a17.45,15.90 0 1 0 34.90,0a17.45,15.90 0 1 0 -34.90,0z"/>
<path fill="#932a28" fill-rule="evenodd" d="M1117.40,3139.70a24.80,22.90 0 1 0 49.60,0a24.80,22.90 0 1 0 -49.60,0z M1124.75,3139.70a17.45,15.90 0 1 0 34.90,0a17.45,15.90 0 1 0 -34.90,0z"/>
<path fill="#932a28" fill-rule="evenodd" d="M1262.70,3136.40a24.80,22.90 0 1 0 49.60,0a24.80,22.90 0 1 0 -49.60,0z M1270.05,3136.40a17.45,15.90 0 1 0 34.90,0a17.45,15.90 0 1 0 -34.90,0z"/>
<path fill="#932a28" fill-rule="evenodd" d="M1409.90,3104.70a24.80,22.90 0 1 0 49.60,0a24.80,22.90 0 1 0 -49.60,0z M1417.25,3104.70a17.45,15.90 0 1 0 34.90,0a17.45,15.90 0 1 0 -34.90,0z"/>
<path fill="#932a28" fill-rule="evenodd" d="M1556.70,3132.40a24.80,22.90 0 1 0 49.60,0a24.80,22.90 0 1 0 -49.60,0z M1564.05,3132.40a17.45,15.90 0 1 0 34.90,0a17.45,15.90 0 1 0 -34.90,0z"/>
<path fill="#932a28" fill-rule="evenodd" d="M1701.60,3107.30a24.80,22.90 0 1 0 49.60,0a24.80,22.90 0 1 0 -49.60,0z M1708.95,3107.30a17.45,15.90 0 1 0 34.90,0a17.45,15.90 0 1 0 -34.90,0z"/>
<path fill="#932a28" fill-rule="evenodd" d="M1848.90,3094.30a24.80,22.90 0 1 0 49.60,0a24.80,22.90 0 1 0 -49.60,0z M1856.25,3094.30a17.45,15.90 0 1 0 34.90,0a17.45,15.90 0 1 0 -34.90,0z"/>
<ellipse cx="409.30" cy="3090.50" rx="21.00" ry="19.70" fill="#366092"/>
<ellipse cx="556.40" cy="3090.30" rx="21.00" ry="19.70" fill="#366092"/>
<ellipse cx="701.00" cy="3088.50" rx="21.00" ry="19.70" fill="#366092"/>
<ellipse cx="848.40" cy="3086.90" rx="21.00" ry="19.70" fill="#366092"/>
<ellipse cx="995.50" cy="3085.50" rx="21.00" ry="19.70" fill="#366092"/>
<ellipse cx="1142.20" cy="3085.50" rx="21.00" ry="19.70" fill="#366092"/>
<ellipse cx="1287.50" cy="3083.50" rx="21.00" ry="19.70" fill="#366092"/>
<ellipse cx="1434.70" cy="3085.60" rx="21.00" ry="19.70" fill="#366092"/>
<g transform="translate(54.26,85.60) scale(1.0670,1)"><text x="0" y="0" font-size="82.00" font-weight="bold" textLength="25.55" lengthAdjust="spacingAndGlyphs" >(</text></g>
<g transform="translate(82.28,84.00) scale(1.0670,1)"><text x="0" y="0" font-size="82.00" font-weight="bold" textLength="40.48" lengthAdjust="spacingAndGlyphs" >a</text></g>
<g transform="translate(125.30,85.60) scale(1.0670,1)"><text x="0" y="0" font-size="82.00" font-weight="bold" textLength="25.55" lengthAdjust="spacingAndGlyphs" >)</text></g>
<g transform="translate(99.16,163.00) scale(1.0670,1)"><text x="0" y="0" font-size="78.50" font-weight="normal" textLength="188.82" lengthAdjust="spacingAndGlyphs" >1 x 10</text></g>
<g transform="translate(300.67,138.50) scale(1.0000,1)"><text x="0" y="0" font-size="53.80" font-weight="normal" textLength="27.28" lengthAdjust="spacingAndGlyphs" >0</text></g>
<g transform="translate(114.76,622.00) scale(1.0670,1)"><text x="0" y="0" font-size="78.50" font-weight="normal" textLength="188.82" lengthAdjust="spacingAndGlyphs" >1 x 10</text></g>
<g transform="translate(316.27,597.50) scale(1.0000,1)"><text x="0" y="0" font-size="53.80" font-weight="normal" textLength="54.06" lengthAdjust="spacingAndGlyphs" >&#8722;1</text></g>
<g transform="translate(114.66,1084.70) scale(1.0670,1)"><text x="0" y="0" font-size="78.50" font-weight="normal" textLength="188.82" lengthAdjust="spacingAndGlyphs" >1 x 10</text></g>
<g transform="translate(316.17,1060.20) scale(1.0000,1)"><text x="0" y="0" font-size="53.80" font-weight="normal" textLength="54.06" lengthAdjust="spacingAndGlyphs" >&#8722;2</text></g>
<g transform="translate(113.56,1544.00) scale(1.0670,1)"><text x="0" y="0" font-size="78.50" font-weight="normal" textLength="188.82" lengthAdjust="spacingAndGlyphs" >1 x 10</text></g>
<g transform="translate(315.07,1519.50) scale(1.0000,1)"><text x="0" y="0" font-size="53.80" font-weight="normal" textLength="54.06" lengthAdjust="spacingAndGlyphs" >&#8722;3</text></g>
<g transform="translate(304.76,1646.00) scale(1.0670,1)"><text x="0" y="0" font-size="78.50" font-weight="normal" textLength="188.82" lengthAdjust="spacingAndGlyphs" >1 x 10</text></g>
<g transform="translate(506.27,1621.50) scale(1.0000,1)"><text x="0" y="0" font-size="53.80" font-weight="normal" textLength="27.28" lengthAdjust="spacingAndGlyphs" >0</text></g>
<g transform="translate(1046.76,1646.80) scale(1.0670,1)"><text x="0" y="0" font-size="78.50" font-weight="normal" textLength="188.82" lengthAdjust="spacingAndGlyphs" >1 x 10</text></g>
<g transform="translate(1248.27,1622.30) scale(1.0000,1)"><text x="0" y="0" font-size="53.80" font-weight="normal" textLength="27.28" lengthAdjust="spacingAndGlyphs" >1</text></g>
<g transform="translate(1746.76,1646.60) scale(1.0670,1)"><text x="0" y="0" font-size="78.50" font-weight="normal" textLength="188.82" lengthAdjust="spacingAndGlyphs" >1 x 10</text></g>
<g transform="translate(1948.27,1622.10) scale(1.0000,1)"><text x="0" y="0" font-size="53.80" font-weight="normal" textLength="27.28" lengthAdjust="spacingAndGlyphs" >2</text></g>
<text transform="translate(94.30,1107.83) rotate(-90) scale(1.0000,1.067)" font-size="80.00" textLength="283.04" lengthAdjust="spacingAndGlyphs">Viscosity</text>
<text transform="translate(94.30,835.47) rotate(-90) scale(1.0000,1.067)" font-size="80.00" textLength="19.96" lengthAdjust="spacingAndGlyphs">,</text>
<text transform="translate(95.06,793.13) rotate(-90) scale(0.7949,1.067)" font-size="81.68" textLength="43.86" lengthAdjust="spacingAndGlyphs">η</text>
<text transform="translate(94.30,738.96) rotate(-90) scale(1.0000,1.067)" font-size="80.00" textLength="102.19" lengthAdjust="spacingAndGlyphs">(Pa</text>
<text transform="translate(82.24,628.15) rotate(-90) scale(0.8942,1.067)" font-size="59.82" textLength="15.11" lengthAdjust="spacingAndGlyphs">·</text>
<text transform="translate(94.30,608.23) rotate(-90) scale(1.0000,1.067)" font-size="80.00" textLength="55.55" lengthAdjust="spacingAndGlyphs">s)</text>
<g transform="translate(727.45,1732.60) scale(1.0670,1)"><text x="0" y="0" font-size="78.50" font-weight="normal" textLength="345.75" lengthAdjust="spacingAndGlyphs" >Shear rate,</text></g>
<g transform="translate(1117.51,1733.30) scale(0.9445,1)"><text x="0" y="0" font-size="78.81" textLength="35.18" lengthAdjust="spacingAndGlyphs">γ</text></g>
<g transform="translate(1155.42,1714.42) scale(1.1091,1)"><text x="0" y="0" font-size="66.63" textLength="16.82" lengthAdjust="spacingAndGlyphs">·</text></g>
<g transform="translate(1192.49,1735.79) scale(1.2077,1)"><text x="0" y="0" font-size="73.59" textLength="22.32" lengthAdjust="spacingAndGlyphs">(</text></g>
<g transform="translate(1220.06,1732.92) scale(1.0584,1)"><text x="0" y="0" font-size="78.63" textLength="30.75" lengthAdjust="spacingAndGlyphs">s</text></g>
<g transform="translate(1251.45,1713.40) scale(0.9948,1)"><text x="0" y="0" font-size="64.60" textLength="19.79" lengthAdjust="spacingAndGlyphs">-</text></g>
<g transform="translate(1273.51,1706.95) scale(0.8621,1)"><text x="0" y="0" font-size="33.13" font-family="DejaVu Sans" stroke="#000" stroke-width="1.97" stroke-linejoin="miter" textLength="28.85" lengthAdjust="spacingAndGlyphs">⊥</text></g>
<g transform="translate(1299.40,1736.38) scale(1.1332,1)"><text x="0" y="0" font-size="73.67" textLength="22.34" lengthAdjust="spacingAndGlyphs">)</text></g>
<path fill="#932a28" fill-rule="evenodd" d="M43.70,1683.40h48.00a3.0,3.0 0 0 1 3.0,3.0v45.00a3.0,3.0 0 0 1 -3.0,3.0h-48.00a3.0,3.0 0 0 1 -3.0,-3.0v-45.00a3.0,3.0 0 0 1 3.0,-3.0z M48.90,1691.00h37.60v35.80h-37.60z"/>
<g transform="translate(96.98,1721.40) scale(1.0670,1)"><text x="0" y="0" font-size="54.00" font-weight="normal" textLength="402.61" lengthAdjust="spacingAndGlyphs" >: Water/Dodecane</text></g>
<rect x="41.25" y="1758.00" width="47.50" height="42.60" fill="#366092"/>
<g transform="translate(96.98,1787.00) scale(1.0670,1)"><text x="0" y="0" font-size="54.00" font-weight="normal" textLength="402.61" lengthAdjust="spacingAndGlyphs" >: Dodecane/Water</text></g>
<path fill="#932a28" fill-rule="evenodd" d="M1516.10,1709.20a27.40,25.50 0 1 0 54.80,0a27.40,25.50 0 1 0 -54.80,0z M1523.40,1709.20a20.10,19.00 0 1 0 40.20,0a20.10,19.00 0 1 0 -40.20,0z"/>
<g transform="translate(1576.78,1721.70) scale(1.0670,1)"><text x="0" y="0" font-size="54.00" font-weight="normal" textLength="99.61" lengthAdjust="spacingAndGlyphs" >: SiO</text></g>
<g transform="translate(1681.77,1733.20) scale(1.0670,1)"><text x="0" y="0" font-size="37.50" font-weight="normal" textLength="19.01" lengthAdjust="spacingAndGlyphs" >2</text></g>
<g transform="translate(1702.35,1721.70) scale(1.0670,1)"><text x="0" y="0" font-size="54.00" font-weight="normal" textLength="241.26" lengthAdjust="spacingAndGlyphs" >/Dodecane</text></g>
<ellipse cx="1544.00" cy="1779.20" rx="24.00" ry="21.60" fill="#366092"/>
<g transform="translate(1576.78,1786.20) scale(1.0670,1)"><text x="0" y="0" font-size="54.00" font-weight="normal" textLength="99.61" lengthAdjust="spacingAndGlyphs" >: SiO</text></g>
<g transform="translate(1681.77,1797.70) scale(1.0670,1)"><text x="0" y="0" font-size="37.50" font-weight="normal" textLength="19.01" lengthAdjust="spacingAndGlyphs" >2</text></g>
<g transform="translate(1702.35,1786.20) scale(1.0670,1)"><text x="0" y="0" font-size="54.00" font-weight="normal" textLength="155.58" lengthAdjust="spacingAndGlyphs" >/Water</text></g>
<g transform="translate(59.53,1944.40) scale(1.0670,1)"><text x="0" y="0" font-size="82.50" font-weight="bold" textLength="25.70" lengthAdjust="spacingAndGlyphs" >(</text></g>
<g transform="translate(85.87,1942.30) scale(1.0670,1)"><text x="0" y="0" font-size="82.50" font-weight="bold" textLength="44.27" lengthAdjust="spacingAndGlyphs" >b</text></g>
<g transform="translate(131.87,1944.40) scale(1.0670,1)"><text x="0" y="0" font-size="82.50" font-weight="bold" textLength="25.70" lengthAdjust="spacingAndGlyphs" >)</text></g>
<g transform="translate(122.06,2036.00) scale(1.0670,1)"><text x="0" y="0" font-size="78.50" font-weight="normal" textLength="188.82" lengthAdjust="spacingAndGlyphs" >1 x 10</text></g>
<g transform="translate(323.57,2011.50) scale(1.0000,1)"><text x="0" y="0" font-size="53.80" font-weight="normal" textLength="27.28" lengthAdjust="spacingAndGlyphs" >4</text></g>
<g transform="translate(122.06,2379.20) scale(1.0670,1)"><text x="0" y="0" font-size="78.50" font-weight="normal" textLength="188.82" lengthAdjust="spacingAndGlyphs" >1 x 10</text></g>
<g transform="translate(323.57,2354.70) scale(1.0000,1)"><text x="0" y="0" font-size="53.80" font-weight="normal" textLength="27.28" lengthAdjust="spacingAndGlyphs" >3</text></g>
<g transform="translate(121.56,2720.00) scale(1.0670,1)"><text x="0" y="0" font-size="78.50" font-weight="normal" textLength="188.82" lengthAdjust="spacingAndGlyphs" >1 x 10</text></g>
<g transform="translate(323.07,2695.50) scale(1.0000,1)"><text x="0" y="0" font-size="53.80" font-weight="normal" textLength="27.28" lengthAdjust="spacingAndGlyphs" >2</text></g>
<g transform="translate(121.56,3062.80) scale(1.0670,1)"><text x="0" y="0" font-size="78.50" font-weight="normal" textLength="188.82" lengthAdjust="spacingAndGlyphs" >1 x 10</text></g>
<g transform="translate(323.07,3038.30) scale(1.0000,1)"><text x="0" y="0" font-size="53.80" font-weight="normal" textLength="27.28" lengthAdjust="spacingAndGlyphs" >1</text></g>
<g transform="translate(124.66,3402.90) scale(1.0670,1)"><text x="0" y="0" font-size="78.50" font-weight="normal" textLength="188.82" lengthAdjust="spacingAndGlyphs" >1 x 10</text></g>
<g transform="translate(326.17,3378.40) scale(1.0000,1)"><text x="0" y="0" font-size="53.80" font-weight="normal" textLength="27.28" lengthAdjust="spacingAndGlyphs" >0</text></g>
<g transform="translate(300.76,3506.00) scale(1.0670,1)"><text x="0" y="0" font-size="78.50" font-weight="normal" textLength="188.82" lengthAdjust="spacingAndGlyphs" >1 x 10</text></g>
<g transform="translate(502.27,3481.50) scale(1.0000,1)"><text x="0" y="0" font-size="53.80" font-weight="normal" textLength="27.28" lengthAdjust="spacingAndGlyphs" >0</text></g>
<g transform="translate(1035.06,3507.70) scale(1.0670,1)"><text x="0" y="0" font-size="78.50" font-weight="normal" textLength="188.82" lengthAdjust="spacingAndGlyphs" >1 x 10</text></g>
<g transform="translate(1236.57,3483.20) scale(1.0000,1)"><text x="0" y="0" font-size="53.80" font-weight="normal" textLength="27.28" lengthAdjust="spacingAndGlyphs" >1</text></g>
<g transform="translate(1719.36,3507.30) scale(1.0670,1)"><text x="0" y="0" font-size="78.50" font-weight="normal" textLength="188.82" lengthAdjust="spacingAndGlyphs" >1 x 10</text></g>
<g transform="translate(1920.87,3482.80) scale(1.0000,1)"><text x="0" y="0" font-size="53.80" font-weight="normal" textLength="27.28" lengthAdjust="spacingAndGlyphs" >2</text></g>
<text transform="translate(93.00,3081.26) rotate(-90) scale(1,1.067)" font-size="80.00" textLength="755.12" lengthAdjust="spacingAndGlyphs">Elastic modulus, G' (Pa)</text>
<g transform="translate(695.66,3594.70) scale(1.0670,1)"><text x="0" y="0" font-size="78.50" font-weight="normal" textLength="332.92" lengthAdjust="spacingAndGlyphs" >Frequency</text></g>
<g transform="translate(1039.77,3594.70) scale(1.0670,1)"><text x="0" y="0" font-size="78.50" font-weight="normal" textLength="19.58" lengthAdjust="spacingAndGlyphs" >,</text></g>
<g transform="translate(1081.61,3594.70) scale(1.0670,1)"><text x="0" y="0" font-size="78.50" font-weight="normal" textLength="54.66" lengthAdjust="spacingAndGlyphs" >ω</text></g>
<g transform="translate(1155.87,3594.70) scale(1.0670,1)"><text x="0" y="0" font-size="78.50" font-weight="normal" textLength="211.70" lengthAdjust="spacingAndGlyphs" >(rad/s)</text></g>
<path fill="#932a28" fill-rule="evenodd" d="M43.75,3535.50h47.50a3.0,3.0 0 0 1 3.0,3.0v45.40a3.0,3.0 0 0 1 -3.0,3.0h-47.50a3.0,3.0 0 0 1 -3.0,-3.0v-45.40a3.0,3.0 0 0 1 3.0,-3.0z M48.95,3543.10h37.10v36.20h-37.10z"/>
<g transform="translate(96.98,3575.60) scale(1.0670,1)"><text x="0" y="0" font-size="54.00" font-weight="normal" textLength="402.61" lengthAdjust="spacingAndGlyphs" >: Water/Dodecane</text></g>
<rect x="44.70" y="3612.30" width="44.60" height="41.80" fill="#366092"/>
<g transform="translate(96.98,3641.80) scale(1.0670,1)"><text x="0" y="0" font-size="54.00" font-weight="normal" textLength="402.61" lengthAdjust="spacingAndGlyphs" >: Dodecane/Water</text></g>
<path fill="#932a28" fill-rule="evenodd" d="M1503.60,3560.80a26.40,25.50 0 1 0 52.80,0a26.40,25.50 0 1 0 -52.80,0z M1510.90,3560.80a19.10,19.00 0 1 0 38.20,0a19.10,19.00 0 1 0 -38.20,0z"/>
<g transform="translate(1559.68,3575.30) scale(1.0670,1)"><text x="0" y="0" font-size="54.00" font-weight="normal" textLength="99.61" lengthAdjust="spacingAndGlyphs" >: SiO</text></g>
<g transform="translate(1664.67,3586.80) scale(1.0670,1)"><text x="0" y="0" font-size="37.50" font-weight="normal" textLength="19.01" lengthAdjust="spacingAndGlyphs" >2</text></g>
<g transform="translate(1685.25,3575.30) scale(1.0670,1)"><text x="0" y="0" font-size="54.00" font-weight="normal" textLength="241.26" lengthAdjust="spacingAndGlyphs" >/Dodecane</text></g>
<ellipse cx="1530.00" cy="3633.70" rx="22.80" ry="20.90" fill="#366092"/>
<g transform="translate(1559.68,3642.00) scale(1.0670,1)"><text x="0" y="0" font-size="54.00" font-weight="normal" textLength="99.61" lengthAdjust="spacingAndGlyphs" >: SiO</text></g>
<g transform="translate(1664.67,3653.50) scale(1.0670,1)"><text x="0" y="0" font-size="37.50" font-weight="normal" textLength="19.01" lengthAdjust="spacingAndGlyphs" >2</text></g>
<g transform="translate(1685.25,3642.00) scale(1.0670,1)"><text x="0" y="0" font-size="54.00" font-weight="normal" textLength="155.58" lengthAdjust="spacingAndGlyphs" >/Water</text></g>
</svg>
</body></html>
